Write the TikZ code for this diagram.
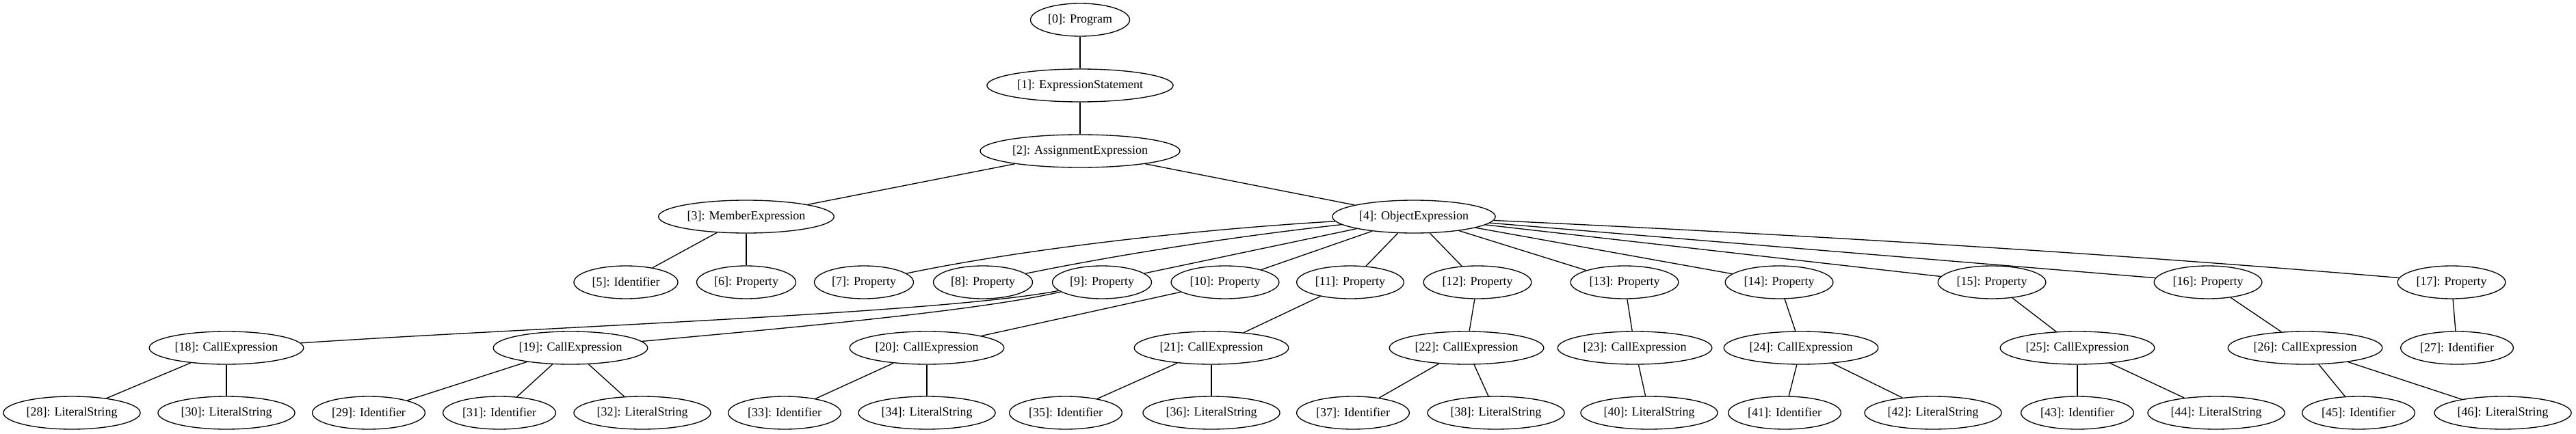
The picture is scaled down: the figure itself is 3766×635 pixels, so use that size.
\documentclass[tikz,border=0pt]{standalone}
\usepackage{fontspec}
\setmainfont{Liberation Serif}
\usetikzlibrary{shapes.geometric}

\begin{document}
\begin{tikzpicture}[x=0.75pt, y=-0.75pt, line width=1pt,
	every node/.style={font=\fontsize{13.5}{16}\selectfont},
	astnode/.style={draw, ellipse, minimum height=36pt, inner xsep=3.2pt, inner ysep=1pt}]
	\useasboundingbox (0,0) rectangle (3766,635);
	\foreach \id/\x/\y/\lab in {0/1579/29/Program, 1/1579/125/ExpressionStatement, 2/1579/221/AssignmentExpression,
		3/1091/317/MemberExpression, 4/2067/317/ObjectExpression,
		5/915/413/Identifier, 6/1091/413/Property, 7/1263/413/Property, 8/1437/413/Property, 9/1611/413/Property,
		10/1791/413/Property, 11/1974/413/Property, 12/2160/413/Property, 13/2375/413/Property, 14/2601/413/Property,
		15/2912/413/Property, 16/3228/413/Property, 17/3584/413/Property,
		18/331/509/CallExpression, 19/834/509/CallExpression, 20/1355/509/CallExpression, 21/1771/509/CallExpression,
		22/2144/509/CallExpression, 23/2390/509/CallExpression, 24/2633/509/CallExpression, 25/3037/509/CallExpression,
		26/3370/509/CallExpression, 27/3592/509/Identifier,
		28/105/604/LiteralString, 30/331/604/LiteralString, 29/539/604/Identifier, 31/730/604/Identifier,
		32/939/604/LiteralString, 33/1147/604/Identifier, 34/1355/604/LiteralString, 35/1558/604/Identifier,
		36/1771/604/LiteralString, 37/1978/604/Identifier, 38/2187/604/LiteralString, 40/2411/604/LiteralString,
		41/2609/604/Identifier, 42/2826/604/LiteralString, 43/3037/604/Identifier, 44/3240/604/LiteralString,
		45/3448/604/Identifier, 46/3659/604/LiteralString} {
		\node[astnode] (n\id) at (\x,\y) {[\id]: \lab};
	}
	\foreach \a/\b in {0/1, 1/2, 2/3, 2/4, 3/5, 3/6, 4/9, 4/10, 4/11, 4/12, 4/13, 4/14, 4/15, 4/16,
		10/20, 11/21, 12/22, 13/23, 14/24, 15/25, 16/26, 17/27, 18/28, 18/30, 19/29, 19/31, 19/32,
		20/33, 20/34, 21/35, 21/36, 22/37, 22/38, 23/40, 24/41, 24/42, 25/43, 25/44, 26/45, 26/46} {
		\draw (n\a) -- (n\b);
	}
	\draw (n4) .. controls (1745,336) and (1498,364) .. (n7);
	\draw (n4) .. controls (1813,345) and (1643,371) .. (n8);
	\draw (n4) .. controls (2622,343) and (3065,369) .. (n17);
	\draw (n9) .. controls (1380,458) and (800,478) .. (n18);
	\draw (n9) .. controls (1430,455) and (1150,480) .. (n19);
\end{tikzpicture}
\end{document}
